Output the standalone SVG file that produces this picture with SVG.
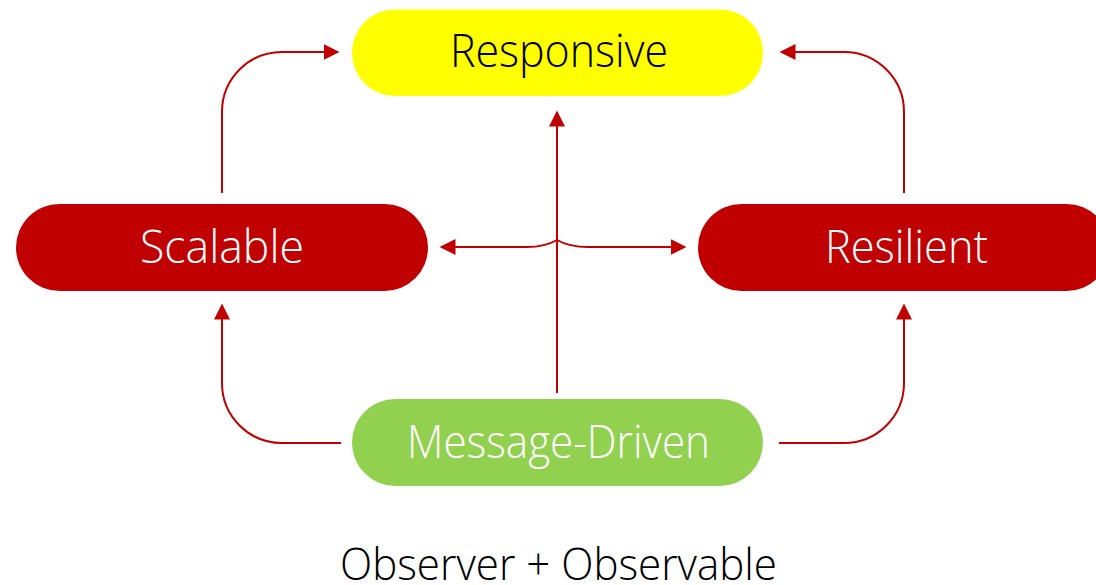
<svg xmlns="http://www.w3.org/2000/svg" width="1096" height="585" viewBox="0 0 1096 585">
  <style>
    .lbl { font-family: "Open Sans", "Lato", "Noto Sans", sans-serif; font-weight: 300; text-anchor: middle; }
    .node-red { fill: #C00000; }
    .link { fill: none; stroke: #C00000; stroke-width: 2; }
  </style>
  <defs>
    <marker id="arrow" markerUnits="userSpaceOnUse" markerWidth="17" markerHeight="17" refX="0.5" refY="8" orient="auto-start-reverse" viewBox="0 0 17 16">
      <path d="M0,0 L16,8 L0,16 Z" fill="#C00000"/>
    </marker>
  </defs>
  <rect width="1096" height="585" fill="#FFFFFF"/>

  <g id="connectors">
    <path class="link" d="M222,193 V112 A60,60 0 0 1 282,52 H324" marker-end="url(#arrow)"/>
    <path class="link" d="M904,193 V112 A60,60 0 0 0 844,52 H795" marker-end="url(#arrow)"/>
    <path class="link" d="M341,443 H282 A60,60 0 0 1 222,383 V319" marker-end="url(#arrow)"/>
    <path class="link" d="M779,443 H844 A60,60 0 0 0 904,383 V319" marker-end="url(#arrow)"/>
    <path class="link" d="M557,393 V126" marker-end="url(#arrow)"/>
    <path class="link" d="M455,247 H527 Q545,247 557,240 Q569,247 588,247 H671" marker-start="url(#arrow)" marker-end="url(#arrow)"/>
  </g>

  <g id="node-responsive">
    <rect x="352" y="9.5" width="411" height="86.5" rx="43" fill="#FFFF00"/>
    <text class="lbl" x="559" y="67" font-size="46" fill="#000000" textLength="218" lengthAdjust="spacingAndGlyphs">Responsive</text>
  </g>

  <g id="node-scalable">
    <rect class="node-red" x="16" y="204" width="412" height="87" rx="43.5"/>
    <text class="lbl" x="222" y="263" font-size="46" fill="#FFFFFF" textLength="164" lengthAdjust="spacingAndGlyphs">Scalable</text>
  </g>

  <g id="node-resilient">
    <rect class="node-red" x="698" y="204" width="412" height="87" rx="43.5"/>
    <text class="lbl" x="906.5" y="263" font-size="46" fill="#FFFFFF" textLength="163" lengthAdjust="spacingAndGlyphs">Resilient</text>
  </g>

  <g id="node-message-driven">
    <rect x="352" y="399" width="411" height="87" rx="43.5" fill="#92D050"/>
    <text class="lbl" x="558.5" y="458" font-size="46" fill="#FFFFFF" textLength="303" lengthAdjust="spacingAndGlyphs">Message-Driven</text>
  </g>

  <text class="lbl" x="558.5" y="580" font-size="44" fill="#000000" textLength="437" lengthAdjust="spacingAndGlyphs">Observer + Observable</text>
</svg>
